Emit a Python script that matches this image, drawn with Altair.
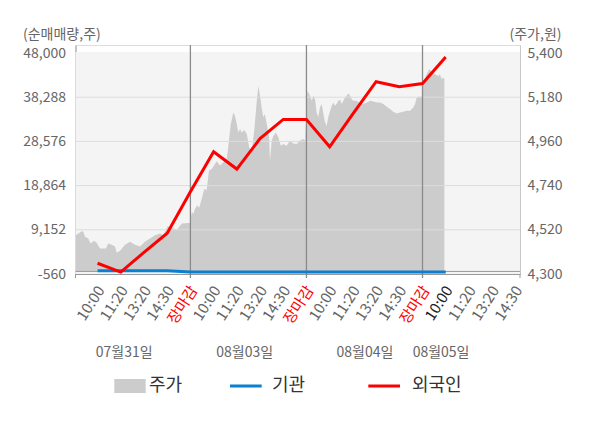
import json
import altair as alt
import pandas as pd

FONT = "Noto Sans CJK KR"

# ---------------- data ----------------
left_ticks = [-560, 9152, 18864, 28576, 38288, 48000]
right_ticks = [4300, 4520, 4740, 4960, 5180, 5400]
time_labels = ["10:00", "11:20", "13:20", "14:30", "장마감",
               "10:00", "11:20", "13:20", "14:30", "장마감",
               "10:00", "11:20", "13:20", "14:30", "장마감",
               "10:00", "11:20", "13:20", "14:30"]
current_label_index = 16
day_labels = ["07월31일", "08월03일", "08월04일", "08월05일"]
day_label_pos = [2.15, 7.34, 12.52, 15.8]
day_bounds = [5, 10, 15]

# stock price (주가), time index -> price
price_t = [0.07, 0.17, 0.32, 0.39, 0.46, 0.60, 0.70, 0.85, 0.96, 1.11, 1.36, 1.46, 1.61, 1.75, 1.83,
           1.97, 2.18, 2.40, 2.61, 2.83, 3.04, 3.26, 3.48, 3.69, 3.83, 4.02, 4.19, 4.41, 4.63, 4.91, 4.98,
           5.06, 5.13, 5.20, 5.30, 5.38, 5.49, 5.60, 5.70, 5.80, 5.92, 6.06, 6.13, 6.28, 6.42, 6.56,
           6.63, 6.74, 6.85, 6.92, 7.00, 7.06, 7.14, 7.21, 7.32, 7.43, 7.53, 7.64, 7.75, 7.86, 7.93,
           8.00, 8.07, 8.14, 8.21, 8.29, 8.39, 8.43, 8.50, 8.57, 8.68, 8.79, 8.90, 9.00, 9.15, 9.29,
           9.43, 9.58, 9.72, 9.86, 9.94,
           10.04, 10.12, 10.23, 10.30, 10.37, 10.44, 10.51, 10.58, 10.66, 10.73, 10.80, 10.87, 10.94,
           11.02, 11.09, 11.16, 11.23, 11.30, 11.37, 11.45, 11.52, 11.59, 11.66, 11.73, 11.80, 11.88,
           11.95, 12.02, 12.17, 12.31, 12.45, 12.60, 12.74, 12.88, 13.03, 13.17, 13.31, 13.46, 13.60,
           13.74, 13.89, 14.03, 14.17, 14.32, 14.46, 14.60, 14.68, 14.75, 14.82, 14.97,
           15.04, 15.18, 15.29, 15.40, 15.54, 15.68, 15.75, 15.83, 15.90, 15.94]
price_v = [4493, 4502, 4513, 4510, 4485, 4477, 4452, 4465, 4455, 4427, 4427, 4452, 4445, 4437, 4406,
           4416, 4445, 4460, 4445, 4437, 4460, 4477, 4493, 4502, 4493, 4538, 4531, 4519, 4551, 4554, 4554,
           4609, 4600, 4625, 4642, 4630, 4675, 4725, 4717, 4815, 4823, 4848, 4861, 4840, 4856, 4873,
           4931, 5047, 5104, 5088, 5047, 5005, 5022, 5005, 5017, 4997, 4931, 4906, 5013, 5162, 5236,
           5187, 5129, 5080, 5096, 5047, 4980, 4865, 4961, 4986, 5005, 4980, 4939, 4947, 4939, 4964,
           4950, 4947, 4964, 4972, 4964,
           5212, 5196, 5162, 5187, 5170, 5104, 5080, 5129, 5146, 5096, 5055, 5038, 5080,
           5113, 5138, 5154, 5138, 5146, 5162, 5167, 5146, 5162, 5179, 5187, 5199, 5187,
           5170, 5162, 5162, 5146, 5146, 5154, 5162, 5159, 5154, 5154, 5146, 5133, 5121,
           5108, 5099, 5104, 5108, 5113, 5113, 5129, 5146, 5179, 5182, 5182,
           5253, 5294, 5319, 5307, 5294, 5286, 5294, 5269, 5280, 5269]

# net buying (순매매량)
flow_t = list(range(1, 17))
foreign_v = [1800, -150, 4200, 8400, 17500, 26300, 22500, 29200, 33400, 33400,
             27400, 34600, 41700, 40600, 41300, 47100]
inst_v = [150, 150, 150, 150, -100, -100, -100, -100, -100, -100,
          -100, -100, -100, -100, -100, -100]

legend_labels = ["주가", "기관", "외국인"]
C_PRICE, C_INST, C_FOREIGN = "#cccccc", "#0b7fd0", "#ff0000"

# ---------------- layout ----------------
W, H = 444.5, 229
X_DOMAIN = [0.05, 19.2]
LEFT_DOMAIN = [-560, 49760]
RIGHT_DOMAIN = [4300, 5440]
BG_TOP = 48220
AREA_BASE = 4312

XS = alt.Scale(domain=X_DOMAIN, nice=False, zero=False)
LS = alt.Scale(domain=LEFT_DOMAIN, nice=False, zero=False)
RS = alt.Scale(domain=RIGHT_DOMAIN, nice=False, zero=False)

X_AXIS = alt.Axis(
    values=list(range(1, len(time_labels) + 1)),
    labelExpr=json.dumps(time_labels, ensure_ascii=False) + "[datum.value - 1]",
    labelAngle=-57, labelFontSize=15, labelFont=FONT,
    labelColor={"condition": [
        {"test": "datum.value % 5 == 0", "value": "#ff0000"},
        {"test": "datum.value == %d" % current_label_index, "value": "#222222"}],
        "value": "#666666"},
    ticks=False, grid=False, domainColor="#999999", domainWidth=1,
    labelPadding=13, labelOffset=3, labelOverlap=False, labelFlush=False, labelBound=False,
    title=None)

NUM_EXPR = "replace(format(datum.value, ','), '\u2212', '-')"

LEFT_AXIS = alt.Axis(
    values=left_ticks, labelExpr=NUM_EXPR, orient="left", labelFontSize=14, labelFont=FONT,
    labelColor="#666666", ticks=False, grid=False, domainColor="#999999",
    labelPadding=10, labelOverlap=False, labelFlush=False,
    title="(순매매량,주)", titleAngle=0, titleX=-53, titleY=-11, titleAlign="left",
    titleBaseline="middle", titleFontSize=14, titleFontWeight="normal", titleColor="#666666",
    titleFont=FONT)

RIGHT_AXIS = alt.Axis(
    values=right_ticks, labelExpr=NUM_EXPR, orient="right", labelFontSize=14, labelFont=FONT,
    labelColor="#666666", ticks=False, grid=False, domainColor="#c8c8c8",
    labelPadding=7, labelOverlap=False, labelFlush=False,
    title="(주가,원)", titleAngle=0, titleX=-11, titleY=-11, titleAlign="left",
    titleBaseline="middle", titleFontSize=14, titleFontWeight="normal", titleColor="#666666",
    titleFont=FONT)


def xq(field):
    return alt.X(field, type="quantitative", scale=XS, axis=X_AXIS)


price_df = pd.DataFrame({"t": price_t, "v": price_v})
flow_df = pd.DataFrame({"t": flow_t, "foreign": foreign_v, "inst": inst_v})
one = alt.Data(values=[{}])

bg = alt.Chart(pd.DataFrame({"top": [BG_TOP], "bot": [left_ticks[0]]})).mark_rect(
    color="#f4f4f4").encode(
    x=alt.value(0), x2=alt.value(W),
    y=alt.Y("top:Q", scale=LS, axis=None), y2="bot:Q")

area = alt.Chart(price_df).mark_area(color=C_PRICE, interpolate="linear").encode(
    x=xq("t"),
    y=alt.Y("v:Q", scale=RS, axis=RIGHT_AXIS),
    y2=alt.datum(AREA_BASE))

grid = alt.Chart(pd.DataFrame({"g": left_ticks[1:-1]})).mark_rule(
    color="#dcdcdc", strokeWidth=1).encode(y=alt.Y("g:Q", scale=LS, axis=LEFT_AXIS))

zero = alt.Chart(pd.DataFrame({"z": [0]})).mark_rule(
    color="#999999", strokeWidth=1).encode(y=alt.Y("z:Q", scale=LS, axis=LEFT_AXIS))

vlines = alt.Chart(pd.DataFrame({"b": day_bounds})).mark_rule(
    color="#8a8a8a", strokeWidth=1.3).encode(
    x=xq("b"), y=alt.value(0), y2=alt.value(H + 4))

edge_ticks = alt.Chart(pd.DataFrame({"b": X_DOMAIN})).mark_rule(
    color="#999999", strokeWidth=1).encode(
    x=xq("b"), y=alt.value(H), y2=alt.value(H + 4))

inst = alt.Chart(flow_df).mark_line(color=C_INST, strokeWidth=3).encode(
    x=xq("t"), y=alt.Y("inst:Q", scale=LS, axis=LEFT_AXIS))

foreign = alt.Chart(flow_df).mark_line(color=C_FOREIGN, strokeWidth=3).encode(
    x=xq("t"), y=alt.Y("foreign:Q", scale=LS, axis=LEFT_AXIS))

days = alt.Chart(pd.DataFrame({"pos": day_label_pos, "label": day_labels})).mark_text(
    font=FONT, fontSize=14, color="#666666", align="center", baseline="middle").encode(
    x=xq("pos"), y=alt.value(308), text="label:N")

# legend
LY = 341
leg_price = alt.Chart(one).mark_rect(color=C_PRICE).encode(
    x=alt.value(38.8), x2=alt.value(70.2), y=alt.value(LY - 7), y2=alt.value(LY + 7))
leg_inst = alt.Chart(one).mark_rule(color=C_INST, strokeWidth=3).encode(
    x=alt.value(154.5), x2=alt.value(186.2), y=alt.value(LY))
leg_foreign = alt.Chart(one).mark_rule(color=C_FOREIGN, strokeWidth=3).encode(
    x=alt.value(292.8), x2=alt.value(324.5), y=alt.value(LY))
leg_texts = [
    alt.Chart(one).mark_text(text=lab, font=FONT, fontSize=18, color="#333333",
                             align="left", baseline="middle").encode(
        x=alt.value(px), y=alt.value(LY))
    for lab, px in zip(legend_labels, [73.5, 196.5, 336.5])
]

rest = alt.layer(grid, zero, vlines, edge_ticks, inst, foreign, days,
                 leg_price, leg_inst, leg_foreign, *leg_texts)

chart = alt.layer(bg, area, rest).resolve_scale(y="independent").properties(
    width=W, height=H,
    autosize=alt.AutoSizeParams(type="none"),
    padding={"left": 67.5, "top": 37, "right": 72, "bottom": 140},
).configure_view(stroke=None).configure(font=FONT)

chart.save("out.html", embed_options={"renderer": "svg", "actions": False})
